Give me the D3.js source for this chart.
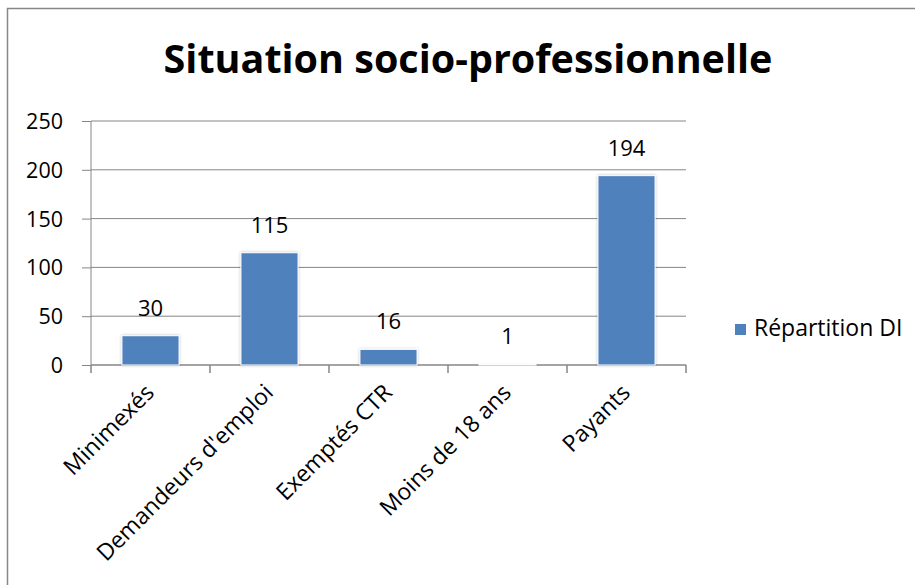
<!DOCTYPE html>
<html>
<head>
<meta charset="utf-8">
<script src="https://cdn.jsdelivr.net/npm/d3@7"></script>
<style>
  body { margin: 0; background: #fff; }
  text { font-family: "Open Sans", "Noto Sans", sans-serif; fill: #000; }
</style>
</head>
<body>
<div id="chart"></div>
<script>
// chart data
var categories = ["Minimexés", "Demandeurs d'emploi", "Exemptés CTR", "Moins de 18 ans", "Payants"];
var values = [30, 115, 16, 1, 194];
var yTicks = [0, 50, 100, 150, 200, 250];
var seriesName = "Répartition DI";

var svgWidth = 915;
var svgHeight = 585;

var margin = { top: 121, left: 91, right: 229, bottom: 220 };
var width = svgWidth - margin.left - margin.right;
var height = svgHeight - margin.top - margin.bottom;

var svg = d3.select("#chart").append("svg")
    .attr("width", svgWidth)
    .attr("height", svgHeight);

// soft shadow under bars
var defs = svg.append("defs");
var filter = defs.append("filter").attr("id", "glow")
    .attr("x", "-20%").attr("y", "-20%").attr("width", "140%").attr("height", "140%");
filter.append("feGaussianBlur").attr("in", "SourceAlpha").attr("stdDeviation", 1.5).attr("result", "blur");
filter.append("feComponentTransfer").attr("in", "blur").attr("result", "soft")
    .append("feFuncA").attr("type", "linear").attr("slope", 0.25);
var merge = filter.append("feMerge");
merge.append("feMergeNode").attr("in", "soft");
merge.append("feMergeNode").attr("in", "SourceGraphic");

// outer frame
svg.append("rect")
    .attr("x", 7.5).attr("y", 8.5)
    .attr("width", 1000).attr("height", 1000)
    .attr("fill", "none")
    .attr("stroke", "#878787")
    .attr("stroke-width", 1.5);

// title
svg.append("text")
    .attr("x", 468)
    .attr("y", 73)
    .attr("text-anchor", "middle")
    .attr("font-weight", "bold")
    .attr("font-size", "39.5px")
    .text("Situation socio-professionnelle");

var chartGroup = svg.append("g")
    .attr("transform", `translate(${margin.left}, ${margin.top})`);

var xScale = d3.scaleBand()
    .domain(categories)
    .range([0, width])
    .paddingInner(0.52)
    .paddingOuter(0.26);

var yScale = d3.scaleLinear()
    .domain([0, 250])
    .range([height, 0]);

// gridlines
chartGroup.append("g")
    .selectAll("line")
    .data(yTicks.filter(d => d > 0))
    .enter()
    .append("line")
    .attr("x1", 0)
    .attr("x2", width)
    .attr("y1", d => yScale(d))
    .attr("y2", d => yScale(d))
    .attr("stroke", "#868686")
    .attr("stroke-width", 1);

// y axis
var yAxis = chartGroup.append("g")
    .call(d3.axisLeft(yScale).tickValues(yTicks).tickSize(9).tickPadding(19));
yAxis.select(".domain").attr("stroke", "#868686").attr("d", `M0,0V${height}`);
yAxis.selectAll(".tick line").attr("stroke", "#868686");
yAxis.selectAll(".tick text")
    .attr("font-size", "21.5px")
    .attr("font-family", "'Open Sans', sans-serif")
    .attr("fill", "#000")
    .attr("dy", "0.35em");

// x axis with ticks on the category boundaries
var xAxisG = chartGroup.append("g")
    .attr("transform", `translate(0, ${height})`);
xAxisG.append("line")
    .attr("x1", 0).attr("x2", width)
    .attr("stroke", "#868686").attr("stroke-width", 1.5);
var step = xScale.step();
xAxisG.selectAll(".bnd")
    .data(d3.range(categories.length + 1))
    .enter()
    .append("line")
    .attr("x1", i => xScale(categories[0]) - step * 0.26 + i * step)
    .attr("x2", i => xScale(categories[0]) - step * 0.26 + i * step)
    .attr("y1", 0).attr("y2", 8)
    .attr("stroke", "#868686").attr("stroke-width", 1.5);

// bars
chartGroup.selectAll(".bar")
    .data(values)
    .enter()
    .append("rect")
    .attr("class", "bar")
    .attr("x", (d, i) => xScale(categories[i]))
    .attr("y", d => yScale(d))
    .attr("width", xScale.bandwidth())
    .attr("height", d => height - yScale(d))
    .attr("fill", "#4F81BD")
    .attr("stroke", "#fff")
    .attr("stroke-width", 1)
    .attr("filter", "url(#glow)");

// value labels
chartGroup.selectAll(".val")
    .data(values)
    .enter()
    .append("text")
    .attr("class", "val")
    .attr("x", (d, i) => xScale(categories[i]) + xScale.bandwidth() / 2)
    .attr("y", d => yScale(d) - 20)
    .attr("text-anchor", "middle")
    .attr("font-size", "22px")
    .text(d => d);

// rotated category labels
chartGroup.selectAll(".cat")
    .data(categories)
    .enter()
    .append("text")
    .attr("class", "cat")
    .attr("text-anchor", "end")
    .attr("font-size", "23px")
    .attr("transform", d => `translate(${xScale(d) + xScale.bandwidth() / 2 + 5}, ${height + 29}) rotate(-45)`)
    .text(d => d);

// legend
var legend = svg.append("g").attr("transform", "translate(735, 324)");
legend.append("rect")
    .attr("width", 11).attr("height", 11)
    .attr("fill", "#4F81BD");
legend.append("text")
    .attr("x", 19)
    .attr("y", 12)
    .attr("font-size", "23px")
    .text(seriesName);
</script>
</body>
</html>
